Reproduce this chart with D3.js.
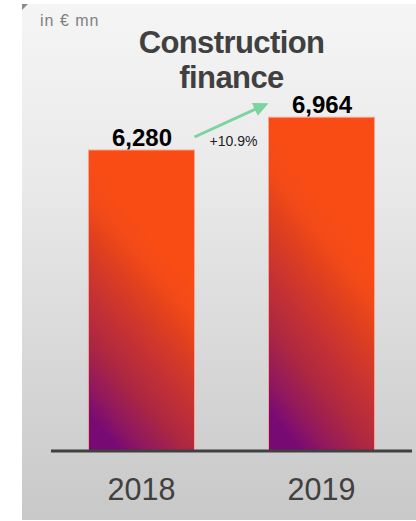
<!DOCTYPE html>
<html>
<head>
<meta charset="utf-8">
<script src="https://cdn.jsdelivr.net/npm/d3@7"></script>
<style>
  html, body { margin: 0; padding: 0; background: #ffffff; }
  svg { display: block; }
  text { font-family: "Liberation Sans", Arial, sans-serif; }
</style>
</head>
<body>
<svg id="chart" width="416" height="521"></svg>
<script>
// Construction finance volume, in € mn
const years = ["2018", "2019"];
const values = [6280, 6964];
const valueLabels = ["6,280", "6,964"];
const growthLabel = "+10.9%";
const titleLines = ["Construction", "finance"];
const unitLabel = "in \u20AC mn";

const W = 416, H = 521;
const svg = d3.select("#chart");
const defs = svg.append("defs");

// panel background: light at the top, greyer towards the bottom
const bg = defs.append("linearGradient")
  .attr("id", "panelBg").attr("x1", 0).attr("y1", 0).attr("x2", 0).attr("y2", 1);
bg.append("stop").attr("offset", 0).attr("stop-color", "#f5f5f5");
bg.append("stop").attr("offset", 0.35).attr("stop-color", "#e9e9e9");
bg.append("stop").attr("offset", 1).attr("stop-color", "#c8c8c8");

// bar fill: purple in the bottom-left corner fading into orange at the top right
const barGrad = defs.append("linearGradient")
  .attr("id", "barGrad")
  .attr("x1", 0.3).attr("y1", 1).attr("x2", 0.7).attr("y2", 0);
[[0, "#780a74"], [0.08, "#8e1760"], [0.22, "#ad2742"], [0.38, "#c93331"], [0.52, "#e0401f"], [0.62, "#f24a18"], [0.72, "#f94c15"], [1, "#f94c15"]]
  .forEach(([o, c]) => barGrad.append("stop").attr("offset", o).attr("stop-color", c));

svg.append("rect")
  .attr("x", 22).attr("y", 4).attr("width", W - 22).attr("height", 516)
  .attr("fill", "url(#panelBg)");
svg.append("path")
  .attr("d", "M22,4 L28,4 L22,10 Z")
  .attr("fill", "#8c8c8c");

// scales
const x = d3.scaleBand()
  .domain(years)
  .range([51, 412])
  .paddingInner(0.411)
  .paddingOuter(0.208);

const y = d3.scaleLinear()
  .domain([0, 7000])
  .range([451, 451 - 7000 * (301 / 6280)]);

// bars
svg.selectAll("rect.bar")
  .data(values)
  .join("rect")
  .attr("class", "bar")
  .attr("x", (d, i) => x(years[i]))
  .attr("y", d => y(d))
  .attr("width", x.bandwidth())
  .attr("height", d => y(0) - y(d))
  .attr("fill", "url(#barGrad)")
  .attr("stroke", "#f7a493")
  .attr("stroke-width", 1);

// baseline axis
const axis = svg.append("g")
  .attr("transform", `translate(0,${y(0)})`)
  .call(d3.axisBottom(x).tickSize(0).tickPadding(0));
axis.select(".domain")
  .attr("d", "M51,0H412")
  .attr("stroke", "#404040")
  .attr("stroke-width", 3);
axis.selectAll(".tick text")
  .attr("y", 49)
  .attr("dy", 0)
  .attr("fill", "#404040")
  .style("font-size", "30.5px")
  .style("font-family", "'Liberation Sans', Arial, sans-serif");

// value labels
svg.selectAll("text.val")
  .data(values)
  .join("text")
  .attr("class", "val")
  .attr("x", (d, i) => x(years[i]) + x.bandwidth() / 2 + 0.5)
  .attr("y", d => y(d) - 4.5)
  .attr("text-anchor", "middle")
  .attr("font-size", 24)
  .attr("font-weight", "bold")
  .attr("fill", "#000000")
  .text((d, i) => valueLabels[i]);

// growth arrow between the bars
const ax1 = x(years[0]) + x.bandwidth(), ay1 = y(values[0]) - 13;
const ax2 = x(years[1]), ay2 = y(values[1]) - 14;
const ang = Math.atan2(ay2 - ay1, ax2 - ax1);
const headLen = 15, headW = 7;
const bx = ax2 - headLen * Math.cos(ang), by = ay2 - headLen * Math.sin(ang);
svg.append("line")
  .attr("x1", ax1).attr("y1", ay1)
  .attr("x2", bx + 2 * Math.cos(ang)).attr("y2", by + 2 * Math.sin(ang))
  .attr("stroke", "#7dd3a0")
  .attr("stroke-width", 3);
svg.append("path")
  .attr("d", `M${ax2},${ay2}L${bx - headW * Math.sin(ang)},${by + headW * Math.cos(ang)}L${bx + headW * Math.sin(ang)},${by - headW * Math.cos(ang)}Z`)
  .attr("fill", "#7dd3a0");

svg.append("text")
  .attr("x", 233.5)
  .attr("y", 146)
  .attr("text-anchor", "middle")
  .attr("font-size", 14)
  .attr("fill", "#222222")
  .text(growthLabel);

// title and unit
svg.append("text")
  .attr("text-anchor", "middle")
  .attr("font-size", 31)
  .attr("font-weight", "bold")
  .attr("letter-spacing", -0.6)
  .attr("fill", "#404040")
  .selectAll("tspan")
  .data(titleLines)
  .join("tspan")
  .attr("x", 231.5)
  .attr("y", (d, i) => 53 + i * 35)
  .text(d => d);

svg.append("text")
  .attr("x", 40)
  .attr("y", 25.5)
  .attr("font-size", 16)
  .attr("letter-spacing", 1)
  .attr("fill", "#808080")
  .text(unitLabel);
</script>
</body>
</html>
